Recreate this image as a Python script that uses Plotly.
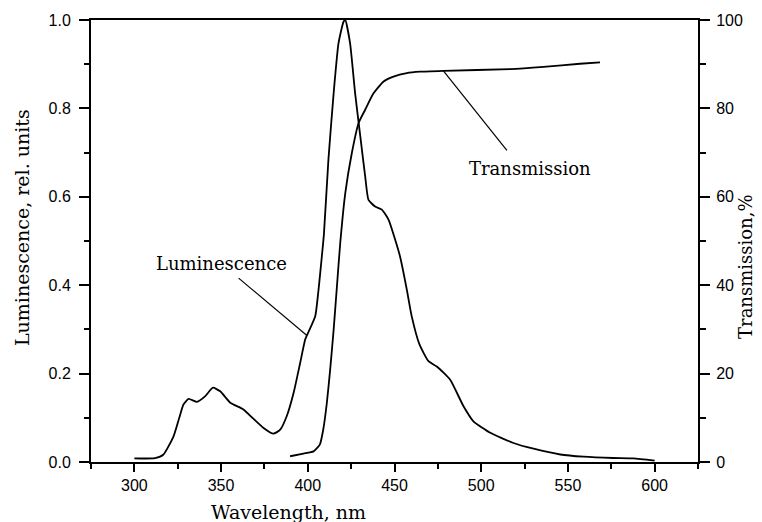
import numpy as np
import plotly.graph_objects as go

# Luminescence spectrum (relative units, left axis)
lum_wl = [300, 312, 316.8, 322.6, 325.9, 328.3, 331.3, 336.1, 340.9, 345.3, 349.5,
          355.3, 362.9, 368.6, 374.5, 380.2, 384.1, 387.9, 391.8, 395.6, 398.5,
          399.9, 404.3, 406.2, 408.1, 409.3, 411.9, 414.9, 417.7, 420.6, 421.6,
          424.4, 427.3, 430.3, 433.1, 435.0, 438.8, 442.7, 446.6, 450.4, 453.2,
          457.1, 459.9, 464.4, 469.6, 474.4, 482.1, 489.8, 495.5, 505.2, 518.6,
          530.2, 545.6, 559, 576.1, 587.7, 600]
lum_val = [0.008, 0.009, 0.017, 0.058, 0.100, 0.130, 0.143, 0.136, 0.149, 0.168, 0.160,
           0.134, 0.119, 0.098, 0.077, 0.064, 0.073, 0.104, 0.156, 0.224, 0.277,
           0.290, 0.330, 0.390, 0.465, 0.515, 0.684, 0.834, 0.947, 0.996, 1.000,
           0.947, 0.834, 0.736, 0.646, 0.593, 0.578, 0.571, 0.548, 0.503, 0.465,
           0.390, 0.330, 0.266, 0.228, 0.216, 0.186, 0.126, 0.092, 0.066, 0.043,
           0.030, 0.017, 0.012, 0.009, 0.008, 0.003]

# Transmission spectrum (%, right axis)
tr_wl = [389.8, 397.5, 403.3, 407.0, 408.9, 411.0, 412.9, 414.9, 416.8, 418.7,
         421.6, 425.4, 429.3, 433.1, 437.9, 443.7, 449.4, 457.1, 464.8, 478.3,
         516.7, 535.9, 556.9, 568.5]
tr_val = [1.3, 1.9, 2.4, 4.0, 7.3, 13.4, 20.9, 29.9, 39.7, 49.5,
          60.8, 69.9, 76.7, 79.7, 83.4, 86.1, 87.2, 88.0, 88.3, 88.5,
          88.9, 89.4, 90.1, 90.4]

x_ticks = [300, 350, 400, 450, 500, 550, 600]
y_left_ticks = [0.0, 0.2, 0.4, 0.6, 0.8, 1.0]
y_right_ticks = [0, 20, 40, 60, 80, 100]

SERIF = "DejaVu Serif"
SANS = "Liberation Sans"

fig = go.Figure()
fig.add_trace(go.Scatter(x=lum_wl, y=lum_val, mode="lines",
                         line=dict(color="black", width=1.8, shape="spline", smoothing=0.5),
                         name="Luminescence", yaxis="y"))
fig.add_trace(go.Scatter(x=tr_wl, y=tr_val, mode="lines",
                         line=dict(color="black", width=1.8, shape="spline", smoothing=0.5),
                         name="Transmission", yaxis="y2"))

# Leader lines from the curve labels to the curves
lum_pt_x = 399.5
lum_pt_y = float(np.interp(lum_pt_x, lum_wl, lum_val))
tr_pt_x = 478.2
tr_pt_y = float(np.interp(tr_pt_x, tr_wl, tr_val))

fig.add_shape(type="line", xref="x", yref="y", x0=360.1, y0=0.416,
              x1=lum_pt_x, y1=lum_pt_y, line=dict(color="black", width=1.2))
fig.add_shape(type="line", xref="x", yref="y2", x0=tr_pt_x, y0=tr_pt_y,
              x1=514.8, y1=70.5, line=dict(color="black", width=1.2))

fig.add_annotation(x=350.1, y=0.449, xref="x", yref="y", text="Luminescence",
                   showarrow=False, font=dict(family=SERIF, size=18, color="black"))
fig.add_annotation(x=528.2, y=0.663, xref="x", yref="y", text="Transmission",
                   showarrow=False, font=dict(family=SERIF, size=18, color="black"))

# Axis titles, offset in pixels from the plot edges
fig.add_annotation(x=389, y=0, xref="x", yref="paper", yshift=-50,
                   text="Wavelength, nm", showarrow=False,
                   xanchor="center", yanchor="middle",
                   font=dict(family=SERIF, size=19, color="black"))
fig.add_annotation(x=0, y=0.5 + (241 - 228) / 442.5, xref="paper", yref="paper",
                   xshift=-69, text="Luminescence, rel. units", showarrow=False,
                   xanchor="center", yanchor="middle", textangle=-90,
                   font=dict(family=SERIF, size=19, color="black"))
fig.add_annotation(x=1, y=0.5 + (241 - 267) / 442.5, xref="paper", yref="paper",
                   xshift=48, text="Transmission,%", showarrow=False,
                   xanchor="center", yanchor="middle", textangle=-90,
                   font=dict(family=SERIF, size=18, color="black"))

fig.update_layout(
    width=762, height=522,
    margin=dict(l=91, r=64, t=20, b=60),
    paper_bgcolor="white", plot_bgcolor="white",
    showlegend=False,
    xaxis=dict(range=[275, 625], tickvals=x_ticks, ticks="outside", ticklen=8,
               tickwidth=1.5, tickcolor="black", showline=True, linewidth=2,
               linecolor="black", mirror=True, showgrid=False, zeroline=False,
               tickfont=dict(family=SANS, size=16, color="black"),
               minor=dict(tick0=275, dtick=25, ticks="outside", ticklen=5,
                          tickwidth=1.5, tickcolor="black", showgrid=False)),
    yaxis=dict(range=[0, 1], tickvals=y_left_ticks, tickformat=".1f",
               ticks="outside", ticklen=10, tickwidth=1.5, tickcolor="black",
               showline=True, linewidth=2, linecolor="black", showgrid=False,
               zeroline=False, ticklabelstandoff=5,
               tickfont=dict(family=SANS, size=16, color="black"),
               minor=dict(tick0=0, dtick=0.1, ticks="outside", ticklen=5,
                          tickwidth=1.5, tickcolor="black", showgrid=False)),
    yaxis2=dict(range=[0, 100], tickvals=y_right_ticks, overlaying="y", side="right",
                ticks="outside", ticklen=10, tickwidth=1.5, tickcolor="black",
                showline=True, linewidth=2, linecolor="black", showgrid=False,
                zeroline=False, ticklabelstandoff=3,
                tickfont=dict(family=SANS, size=16, color="black"),
                minor=dict(tick0=0, dtick=10, ticks="outside", ticklen=6,
                           tickwidth=1.5, tickcolor="black", showgrid=False)),
)

fig.write_html("out.html")
